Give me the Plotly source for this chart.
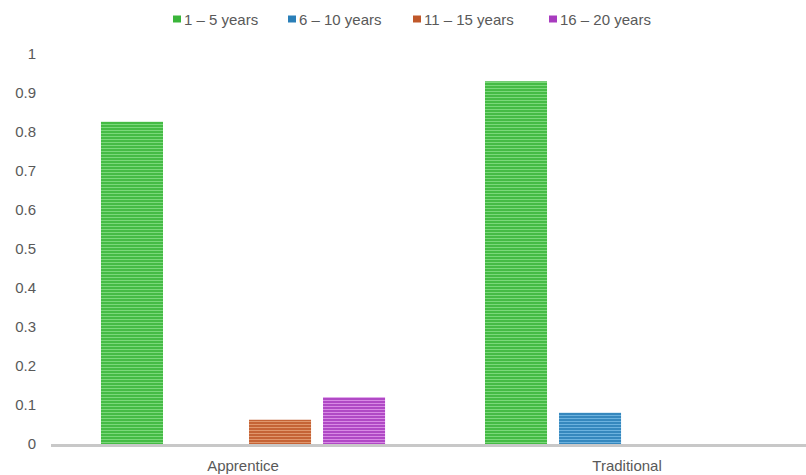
import plotly.graph_objects as go

# Share of respondents by years of experience, per training route
categories = ["Apprentice", "Traditional"]
series_names = ["1 \u2013 5 years", "6 \u2013 10 years", "11 \u2013 15 years", "16 \u2013 20 years"]
values_1_5 = [0.826, 0.93]
values_6_10 = [0.0, 0.08]
values_11_15 = [0.062, 0.0]
values_16_20 = [0.12, 0.0]
y_ticks = [0, 0.1, 0.2, 0.3, 0.4, 0.5, 0.6, 0.7, 0.8, 0.9, 1]

series_values = [values_1_5, values_6_10, values_11_15, values_16_20]
# (base colour, stripe colour) for each series
palette = [
    ("#3ab53a", "#7ad87a"),
    ("#2a7fb8", "#6cb2df"),
    ("#c0582a", "#e0966c"),
    ("#a83bbf", "#d889e5"),
]

W, H = 806, 475
L, R, T, B = 51, 0, 54, 31
plot_w, plot_h = W - L - R, H - T - B
text_color = "#595959"
font_family = "Liberation Sans, Arial, sans-serif"

fig = go.Figure()
for name, vals, (base, stripe) in zip(series_names, series_values, palette):
    fig.add_trace(go.Bar(
        name=name,
        x=categories,
        y=vals,
        showlegend=False,
        marker=dict(
            color=base,
            line=dict(width=0),
            pattern=dict(shape="-", fgcolor=stripe, bgcolor=base,
                         size=3, solidity=0.45, fillmode="replace"),
        ),
    ))

# Legend row along the top: small swatch followed by its label
legend_left_px = [173, 288, 413, 549]
legend_mid_py = 19
for left, name, (base, stripe) in zip(legend_left_px, series_names, palette):
    fig.add_shape(type="rect", xref="paper", yref="paper",
                  x0=(left - L) / plot_w, x1=(left + 8 - L) / plot_w,
                  y0=(H - B - (legend_mid_py + 3.5)) / plot_h,
                  y1=(H - B - (legend_mid_py - 3.5)) / plot_h,
                  fillcolor=base, line=dict(width=0))
    fig.add_annotation(xref="paper", yref="paper",
                       x=(left + 9 - L) / plot_w,
                       y=(H - B - legend_mid_py) / plot_h,
                       xanchor="left", yanchor="middle", showarrow=False,
                       text=name, font=dict(size=15, color=text_color, family=font_family))

fig.update_layout(
    width=W, height=H,
    margin=dict(l=L, r=R, t=T, b=B, pad=0),
    paper_bgcolor="white", plot_bgcolor="white",
    barmode="group", bargap=0.229, bargroupgap=0.162,
    font=dict(family=font_family, size=15, color=text_color),
    showlegend=False,
)
fig.update_xaxes(range=[-0.5, 1.466], showline=True, linecolor="#c8c8c8", linewidth=3,
                 showgrid=False, ticks="", ticklabelstandoff=6,
                 tickfont=dict(size=15, color=text_color))
fig.update_yaxes(range=[0, 1], tickvals=y_ticks, ticktext=[f"{v:g}" for v in y_ticks],
                 showgrid=False, zeroline=False, showline=False, ticks="",
                 ticklabelstandoff=14, tickfont=dict(size=15, color=text_color))

fig.write_html("out.html")
